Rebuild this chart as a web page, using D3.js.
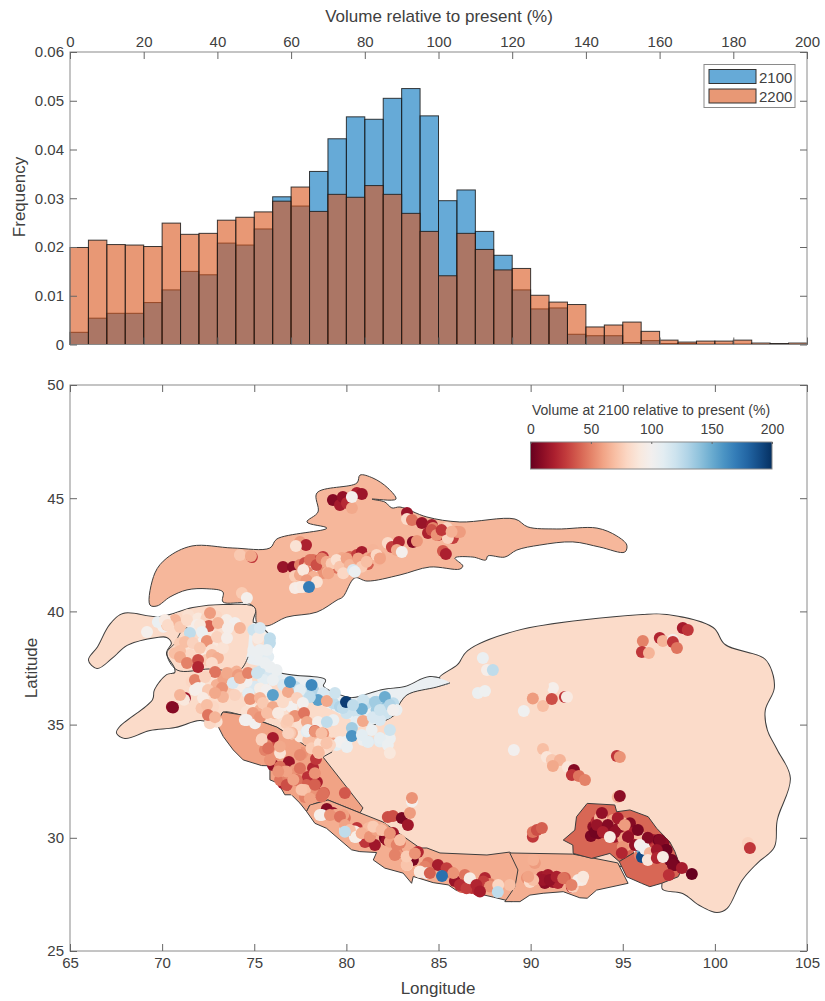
<!DOCTYPE html>
<html lang="en">
<head>
  <meta charset="UTF-8" />
  <title>Glacier volume</title>
  <script src="https://d3js.org/d3.v7.min.js"></script>
  <style>
    body { margin: 0; background: #fff; }
    text { font-family: "Liberation Sans", Arial, sans-serif; fill: #404040; }
  </style>
</head>
<body>
  <div id="chart"></div>

  <script>
    // histogram, one value per 5 % bin
    const binEdges = d3.range(0, 200, 5);
    const freq2100 = [0.0025, 0.0054, 0.0064, 0.0064, 0.0086, 0.0112, 0.0150, 0.0143, 0.0208, 0.0204,
      0.0237, 0.0303, 0.0284, 0.0355, 0.0422, 0.0467, 0.0462, 0.0505, 0.0525, 0.0469,
      0.0295, 0.0317, 0.0232, 0.0183, 0.0112, 0.0073, 0.0075, 0.0021, 0.0018, 0.0018,
      0.0004, 0.0008, 0.0002, 0.0002, 0.0001, 0.0001, 0.0001, 0, 0.0001, 0];
    const freq2200 = [0.0199, 0.0214, 0.0205, 0.0204, 0.0201, 0.0249, 0.0226, 0.0228, 0.0255, 0.0261,
      0.0272, 0.0294, 0.0323, 0.0273, 0.0308, 0.0302, 0.0326, 0.0308, 0.0269, 0.0232,
      0.0141, 0.0228, 0.0195, 0.0153, 0.0156, 0.0101, 0.0087, 0.0082, 0.0036, 0.0040,
      0.0046, 0.0027, 0.0009, 0.0005, 0.0007, 0.0007, 0.0009, 0.0003, 0.0002, 0.0003];
    const years = ["2100", "2200"];

    // region outlines as [lon, lat]
    const tibet = [[85.08,37.06],[86.05,37.63],[86.60,38.25],[89.25,39.13],[96.09,39.84],[97.39,39.84],[99.89,39.27],[100.54,38.52],[102.60,37.94],[102.98,37.54],[103.20,36.62],[102.71,35.64],[102.82,34.76],[103.36,33.88],[104.07,32.64],[103.36,30.79],[103.20,29.59],[102.28,28.89],[101.46,28.14],[100.65,26.90],[100.11,26.72],[99.18,27.03],[98.26,27.56],[97.18,27.74],[97.12,28.05],[95.93,28.58],[91.59,29.02],[84.53,29.24],[80.57,30.79],[78.73,33.57],[79.22,33.79],[79.22,35.64],[80.57,35.11],[81.44,34.98],[82.80,35.56],[82.80,35.78],[83.29,36.31],[84.91,36.66],[85.62,36.84]];
    const tienShan = [[69.34,40.28],[69.61,41.70],[70.26,42.36],[71.62,42.89],[73.84,42.80],[75.85,42.80],[76.23,43.20],[78.94,43.68],[77.86,43.95],[78.46,44.39],[78.40,45.23],[80.57,45.67],[80.74,46.02],[81.44,45.89],[82.25,45.45],[82.69,44.96],[81.39,44.96],[82.09,44.83],[82.47,44.57],[82.91,44.61],[84.37,44.17],[86.16,43.95],[89.15,44.08],[89.85,43.73],[91.42,43.64],[93.60,43.68],[94.68,43.33],[95.22,42.93],[95.11,42.62],[93.76,42.84],[92.29,43.07],[90.50,42.93],[89.25,42.71],[88.60,42.40],[87.68,42.45],[87.57,42.27],[86.87,42.40],[85.89,42.36],[86.32,42.01],[86.16,41.87],[84.53,41.96],[82.91,41.61],[81.12,41.34],[80.46,41.48],[79.81,40.64],[79.49,40.50],[78.40,39.97],[76.77,39.75],[75.69,39.36],[75.15,39.49],[75.04,40.15],[74.60,40.37],[73.30,40.42],[73.30,40.86],[72.43,41.00],[71.35,40.95],[70.43,40.64],[69.72,40.24]];
    const hinduKush = [[75.04,40.15],[73.30,40.28],[71.67,40.15],[69.88,39.75],[67.88,39.89],[67.17,39.40],[66.52,38.43],[66.03,37.85],[66.47,37.50],[67.33,37.99],[68.09,38.52],[69.72,38.87],[70.26,38.87],[70.53,38.60],[70.26,38.16],[70.70,37.50],[70.70,37.28],[70.26,37.19],[69.61,36.53],[69.50,36.09],[67.71,34.89],[67.55,34.63],[67.98,34.41],[69.34,34.76],[70.70,34.89],[72.05,35.20],[72.98,35.07],[73.30,35.56],[74.39,35.42],[76.23,34.89],[78.73,33.57],[79.22,33.79],[79.22,35.64],[77.86,36.17],[76.29,37.32],[75.74,37.99],[76.01,38.65],[74.93,39.49]];
    const karakoram = [[74.93,39.49],[76.01,38.65],[75.74,37.99],[76.29,37.32],[78.84,36.97],[78.73,36.70],[79.92,36.22],[80.36,36.17],[81.98,36.53],[83.18,36.66],[84.53,37.10],[85.62,36.84],[84.91,36.66],[83.29,36.31],[82.80,35.78],[82.80,35.56],[81.44,34.98],[80.57,35.11],[79.22,35.64],[77.86,36.17],[76.94,36.53],[75.58,37.50],[74.60,37.76],[74.66,38.29]];
    const westHimalaya = [[72.95,35.06],[73.30,35.56],[74.39,35.42],[76.23,34.89],[78.73,33.57],[80.90,31.32],[80.74,31.10],[79.00,31.67],[78.02,31.45],[77.84,31.16],[77.48,31.53],[77.02,31.90],[76.66,31.90],[76.30,32.41],[75.85,32.56],[75.85,33.18],[75.40,33.19],[74.40,33.44],[73.86,33.88],[73.32,34.47]];
    const centralHimalaya = [[79.00,31.67],[80.74,31.10],[81.98,30.70],[83.99,29.55],[84.37,29.55],[85.08,29.33],[87.63,29.24],[88.87,29.37],[89.25,29.02],[89.42,28.71],[88.96,27.18],[87.97,27.38],[87.06,27.55],[85.98,27.67],[85.53,27.92],[84.71,28.02],[83.63,28.29],[83.54,27.99],[83.08,28.44],[82.09,28.66],[81.46,29.02],[81.64,29.35],[80.73,29.39],[80.28,29.47],[79.65,29.91],[78.92,30.42],[78.29,30.64],[77.84,31.16],[78.02,31.45]];
    const eastHimalaya = [[88.87,29.33],[92.29,29.28],[94.73,28.89],[95.29,27.99],[93.58,27.69],[93.07,27.33],[92.67,27.35],[91.77,27.62],[90.68,27.55],[89.96,27.47],[89.42,27.18],[89.05,27.18],[88.60,27.18],[89.15,27.83],[89.31,28.58]];
    const nyainqentanglha = [[93.07,31.52],[94.57,31.45],[94.67,31.15],[95.39,31.23],[96.38,30.93],[96.84,30.42],[97.56,29.81],[96.31,29.68],[95.22,29.15],[94.81,28.95],[94.30,29.31],[93.31,29.09],[92.31,29.31],[92.29,29.68],[91.77,29.90],[92.40,30.34],[92.49,30.93]];
    const hengduan = [[94.81,28.95],[95.21,28.28],[96.02,27.99],[96.47,27.84],[97.11,27.99],[98.01,28.28],[98.19,28.58],[97.83,29.39],[97.56,29.81],[96.31,29.68],[95.22,29.15]];
    const paleShapes = [tibet, hinduKush, karakoram];
    const paleVolumes = [82, 82, 106];
    const smoothShapes = [tienShan];
    const smoothVolumes = [67];
    const regionShapes = [westHimalaya, centralHimalaya, eastHimalaya, nyainqentanglha, hengduan];
    const regionVolumes = [60, 64, 64, 42, 42];

    // inner borders of the pale regions, only partly drawn in the source
    const pamirEdge = [[72.50,39.53],[71.13,39.18],[70.70,38.60],[70.26,38.16],[70.81,37.41],[72.60,37.46],[74.22,37.41],[74.66,37.99]];
    const karakoramSouth = [[82.80,35.78],[82.80,35.56],[81.44,34.98],[80.57,35.11]];
    const karakoramEast = [[85.62,36.84],[84.91,36.66],[83.29,36.31],[82.80,35.78]];
    const himalayaStub = [[78.73,33.57],[79.22,33.79]];
    const innerEdges = [pamirEdge, karakoramSouth, karakoramEast, himalayaStub];

    // glacier dots as [lon, lat, volume %]
    const dotsTienShan = [[79.27,44.92,8],[79.65,44.70,18],[79.81,45.05,12],[80.03,44.79,24],[80.30,44.57,62],[80.57,45.23,20],[80.84,45.19,15],[80.30,45.05,98],
      [83.29,44.35,14],[83.29,44.08,82],[83.56,44.04,45],[84.10,43.90,14],[84.64,43.82,18],[84.70,43.68,50],[84.43,43.46,20],[84.97,43.37,28],[85.24,43.60,72],[85.46,43.68,80],[85.78,43.24,30],[85.51,43.24,78],[86.00,43.51,55],[86.16,43.51,58],
      [82.25,43.02,82],[82.47,42.84,30],[82.85,43.07,22],[82.74,42.71,62],[83.01,42.62,98],[83.61,43.07,8],[83.83,43.11,56],[85.24,42.67,38],[85.40,42.54,20],
      [76.56,41.96,14],[77.10,41.96,10],[77.21,41.56,75],[77.48,42.05,50],[77.75,42.14,35],[77.91,41.96,66],[78.19,42.27,45],[78.56,42.27,35],[78.73,42.40,28],[78.29,41.83,96],[78.73,41.70,55],[79.00,41.74,66],[77.86,41.74,50],[77.48,41.61,62],
      [79.38,42.14,74],[79.76,42.36,62],[79.54,41.92,45],[79.92,41.83,78],[80.08,42.14,50],[80.19,42.40,40],[80.36,42.05,86],[80.57,42.49,30],[80.63,42.27,58],[80.84,42.62,18],[80.84,42.05,55],[80.90,42.18,66],[81.17,42.36,62],[81.17,42.09,40],[81.44,42.71,66],[81.39,42.36,55],[81.82,42.40,62],[81.71,42.27,66],
      [77.48,43.07,58],[77.81,42.93,20],[77.26,42.89,86],[74.22,42.49,74],[74.87,42.40,28],[74.82,42.45,62],[74.33,40.81,75],[74.60,40.59,98]];
    const dotsTienShanTop = [[78.02,42.27,45],[78.38,42.05,35],[78.66,42.34,50],[78.93,42.19,62],[79.20,42.12,75],[79.47,42.27,85],[79.65,41.97,72],[80.01,42.34,60],[80.19,42.05,66],[80.65,42.34,60],[80.83,41.97,75],[81.10,42.19,70],[81.64,42.49,80],[81.82,42.34,60],[79.83,41.68,80],[78.20,41.53,65],[79.02,41.68,60],[77.66,41.83,90],[77.84,41.38,58],[84.63,43.59,36],[84.90,43.37,55],[85.17,43.59,28],[85.71,43.52,65],
      [80.36,41.83,115],[80.46,41.75,105],[77.21,41.03,93],[77.48,41.08,96],[77.64,41.08,92],[78.40,41.30,86],[77.97,41.08,170]];
    const dotsWestBack = [[70.42,39.54,88],[70.06,39.32,100],[70.87,39.69,80],[71.42,39.84,85],[71.96,39.69,90],[72.41,39.69,78],[71.69,39.32,92],[72.96,39.77,80],[73.50,39.62,95],[73.32,39.03,85],[72.59,38.96,90],[71.60,38.37,85],[70.97,38.59,75],[70.69,38.15,70],[71.51,38.07,80],[72.23,38.15,90],[72.41,37.85,75],[72.77,38.44,90],[72.23,38.66,100],
      [72.05,36.75,95],[72.32,36.23,85],[71.60,36.90,80],[72.59,36.97,85],[72.96,36.75,65],[73.59,36.53,75],[73.32,37.04,60],[73.68,37.26,70],[74.04,37.34,65],[73.77,37.04,60],[72.77,35.79,80],[72.14,35.72,72],[72.96,35.13,85],[72.59,35.06,80],[74.83,35.72,90],[75.04,35.06,100],[74.58,35.57,85],[75.31,35.64,65],[75.76,35.64,75],[76.12,35.50,70],[74.49,35.20,100],[75.13,36.16,80],[75.67,35.86,90],[76.48,35.79,95],[77.03,35.79,100],[76.57,35.35,85],[77.12,35.35,70],[77.66,35.35,60],[77.48,34.98,85],[76.75,35.06,75],[77.03,34.61,80],[77.48,34.47,90],[77.93,34.32,70],[78.47,34.25,70],[78.93,34.25,75],[77.84,34.69,110],[78.74,34.61,55],[79.29,34.17,60]];
    const dotsKarakoramBack = [[76.21,37.12,110],[76.57,36.75,115],[77.21,36.67,125],[77.66,36.45,120],[78.20,36.53,130],[78.74,36.38,115],[79.29,35.94,125],[79.65,35.79,130],[80.01,35.50,120],[80.55,35.57,120],[81.10,35.94,125],[81.64,36.01,130],[81.64,35.64,135],[82.18,35.79,140],[82.54,35.94,125],[82.72,35.64,105],[82.00,35.64,125],[82.18,35.50,120],[81.82,35.20,115],[81.19,35.20,110],[80.55,35.13,110],[79.29,35.20,105],[80.91,36.09,120],[81.37,34.76,105],[82.36,34.39,105],[81.82,34.25,110],[80.91,34.32,105],[80.01,34.25,105],[79.47,34.10,110],[81.19,34.25,115],
      [74.95,38.29,105],[75.31,38.00,105],[75.76,38.00,110],[75.49,38.59,115],[74.95,39.18,120],[75.40,38.88,95],[75.22,38.66,85],[75.85,38.81,125],[75.31,37.34,120],[75.85,37.19,115],[76.21,37.41,105],[75.49,36.97,110],[75.04,36.67,115],[74.58,36.90,100],[74.22,36.67,95],[74.67,36.38,110],[75.31,36.60,95],[75.67,36.53,100]];
    const dotsPamir = [[69.18,39.09,98],[69.77,39.53,106],[70.26,39.40,75],[70.70,39.62,66],[70.97,39.31,74],[71.35,39.62,82],[71.89,39.40,96],[70.15,39.62,92],[72.60,39.93,58],[72.54,39.36,40],[73.03,39.49,66],[73.95,39.49,100],[73.57,39.27,96],[74.22,39.27,66],[72.05,39.40,90],[71.51,39.05,125],[72.16,39.09,105],[70.31,39.40,82],[71.24,38.65,70],[71.67,38.60,78],[72.43,38.69,55],[72.98,38.87,78],[72.05,38.38,74],[72.70,38.29,86],[70.97,38.25,70],[70.97,37.99,62],[71.35,37.72,50],[71.95,37.85,35],[71.95,37.54,22],[72.70,38.07,66],[73.03,37.94,64],[72.70,37.72,82],[73.30,38.38,86],[73.52,38.82,96],[72.87,37.32,46],[73.52,37.28,62],[74.12,37.19,58],
      [70.53,35.78,12],[70.59,35.76,8],[71.24,36.17,15],[71.19,36.10,90],[70.97,36.31,66],
      [71.78,36.97,50],[71.95,36.62,96],[72.33,37.10,78],[71.78,36.53,96],[72.49,36.53,74],[73.25,36.62,55],[73.30,36.22,66],[72.87,36.40,62],[72.22,36.17,92],[72.43,35.87,70],[72.49,35.42,46],[72.87,35.33,66]];
    const dotsKarakoram = [[73.84,36.84,115],[74.22,37.06,62],[74.66,37.28,50],[75.15,37.28,120],[75.20,38.82,92],[75.31,39.27,115],[75.31,38.29,105],[75.85,38.60,125],[75.58,37.72,105],[75.85,37.54,105],[75.69,38.29,105],[76.01,36.97,105],[73.95,36.31,78],[74.77,36.13,55],[75.31,36.17,66],[75.47,35.95,74],[76.01,35.78,62],[74.93,35.51,58],[74.60,35.20,100],[75.31,35.33,55],[75.69,35.51,70],[76.29,35.51,92],[76.83,36.44,62],[76.94,36.88,160],[77.48,36.53,110],[78.11,36.75,165],[78.46,36.09,155],[78.02,36.22,125],[78.94,36.04,62],[77.32,36.17,78],[77.64,35.95,100],[76.56,35.99,82],[76.01,36.31,155],[77.21,35.38,55],[77.70,35.51,46],[76.83,35.20,74],[77.86,35.11,62],[78.46,35.11,96],[78.94,35.11,125],[77.91,34.76,105],[77.05,34.63,66],[78.29,34.72,40],[79.65,34.23,100],[80.03,34.01,105],[80.30,34.85,135],[80.30,34.50,160],[80.84,34.54,110],[81.17,34.23,110],[81.82,34.41,108],[82.36,34.76,120],[82.25,34.10,105],[82.36,33.75,90],[79.00,34.19,70],[78.56,33.88,82],[77.59,33.70,58],[79.38,36.40,120],[79.81,35.73,125],[79.98,36.00,195],[80.84,35.69,150],[80.90,35.16,62],[80.36,35.87,125],[81.44,35.33,115],[81.55,36.00,135],[82.09,36.22,150],[82.36,35.87,130],[82.53,35.64,100],[81.82,35.64,120]];
    const dotsHimalaya = [[75.42,34.36,78],[76.01,34.41,18],[75.96,33.97,35],[76.12,33.66,55],[76.40,33.75,86],[76.01,33.22,12],[75.68,34.09,50],[76.94,34.63,74],[77.59,33.75,55],[76.88,33.35,14],[78.19,33.08,22],[78.35,33.48,28],[78.51,33.75,70],[78.94,34.19,74],[76.50,32.86,40],[77.05,32.86,55],[77.59,32.64,40],[78.02,32.33,46],[76.56,32.42,18],[76.94,32.33,28],[77.59,32.16,70],[77.75,31.80,50],[78.40,32.46,18],[77.91,32.69,26],[78.78,31.98,38],[78.35,32.02,22],[76.40,32.55,46],[77.21,32.99,58],
      [78.94,31.27,8],[79.27,31.10,12],[78.67,31.01,100],[79.49,31.01,62],[79.92,30.87,46],[79.92,30.34,120],[80.46,30.04,96],[80.57,30.43,28],[81.12,30.04,55],[81.39,30.48,74],[81.01,29.81,28],[81.55,29.68,16],[81.98,30.39,66],[82.09,29.99,5],[82.20,29.90,12],[82.53,30.21,16],[82.91,29.77,50],[82.74,29.33,40],[83.61,29.02,5],[83.88,29.37,22],[83.29,28.80,88],[83.99,28.49,100],[84.43,28.80,66],
      [82.25,30.92,35],[82.53,30.96,35],[83.01,30.87,5],[83.34,30.57,16],
      [84.43,28.89,46],[84.97,28.80,18],[85.62,28.49,46],[85.89,28.09,14],[86.43,28.36,46],[86.70,28.14,88],[86.81,27.78,28],[86.27,27.83,40],[87.52,28.22,22],[87.79,27.96,50],[87.14,27.69,22],[88.87,27.92,70],
      [89.80,28.22,55],[89.96,28.05,82],[90.23,28.89,58],[90.61,28.27,16],[90.94,28.36,18],[90.77,28.00,10],[91.21,28.05,14],[91.48,28.00,22],[91.86,28.22,40],[92.78,28.14,92],[92.24,27.83,22],[92.29,27.83,78]];
    const dotsHimalayaTop = [[75.58,33.88,50],[75.85,33.44,55],[76.39,33.14,45],[76.66,32.92,60],[77.30,32.85,55],[76.85,32.63,50],[77.48,33.07,45],[78.20,32.04,55],[77.84,32.33,40],[77.21,32.11,60],[76.76,32.33,35],[77.75,32.11,70],[78.29,32.85,55],[78.65,31.82,45],[78.02,31.74,60],[77.21,33.95,60],[78.11,33.95,75],[78.56,34.17,85],[79.11,34.10,80],[77.30,32.55,45],
      [75.40,34.32,78],[75.76,33.96,45],[76.39,34.03,62],[76.84,34.62,78],[77.48,33.66,52],[78.29,34.69,55],[78.65,34.62,70],[78.92,34.18,72],[78.47,33.81,68],[76.75,32.93,60],[76.30,32.93,55],[77.57,32.12,72],[77.12,32.56,60],[78.29,32.34,40],[78.74,31.97,45],[79.92,31.98,38],[79.83,31.01,60],[78.56,31.01,97],[79.38,31.01,62],[80.46,30.28,92],[81.19,30.42,68],[82.00,30.35,58],[82.72,29.76,62],[82.72,29.32,55],[83.27,28.80,72],
      [79.11,31.01,55],[79.65,30.93,45],[79.92,30.56,60],[80.19,30.34,70],[79.92,30.27,125],[80.55,30.05,95],[80.83,30.20,65],[81.28,30.05,55],[81.64,30.34,60],[81.46,30.49,75],[81.91,30.34,70],[82.36,29.83,60],[82.73,29.68,50],[82.36,30.20,55],[82.91,29.90,70],[82.63,29.24,50],[83.27,29.17,75],[83.72,29.31,55],[84.26,28.72,50],[84.35,28.43,100],
      [83.45,31.10,58],[83.56,31.60,98],[83.56,31.76,55],
      [83.99,28.51,90],[84.53,28.44,40],[85.44,28.66,30],[85.80,28.44,55],[86.16,27.92,25],[86.52,27.77,30],[86.70,28.21,95],[87.43,28.07,30],[87.06,27.92,22],[87.79,27.85,55],[88.24,27.92,80],[87.25,27.63,18],
      [90.68,28.14,15],[91.04,28.14,12],[91.41,28.28,20],[91.77,28.21,45],[90.14,28.14,70],[89.87,28.28,60],[90.14,29.02,65],[92.58,28.14,95],[92.85,28.28,90],[92.22,27.91,50],
      [85.19,28.31,175],[88.22,27.61,125]];
    const dotsSouthEastBack = [[93.85,30.86,72],[93.40,30.49,10],[93.67,30.20,5],[93.58,30.71,25],[94.48,30.79,60],[93.94,30.42,5],[94.76,30.42,12],[95.03,30.64,65],[95.39,30.64,8],[95.48,30.20,20],[94.57,30.05,15],[95.03,29.98,60],[95.21,29.68,60],[95.93,30.05,70],[96.66,29.90,20],[96.75,29.53,30],[97.02,29.39,60],[97.20,29.76,10],[96.66,29.09,45],[95.75,29.68,80],[95.93,29.39,110],[95.93,29.24,50],[96.02,29.53,150],[96.11,29.68,95],[96.93,29.90,3],[97.38,29.46,2],[97.29,29.17,5],[97.56,29.02,3],[97.83,28.80,2]];
    const dotsTibet = [[94.68,33.61,28],[94.84,33.57,55],[94.73,31.80,66],[94.84,31.85,10],[90.12,30.05,28],[90.12,30.26,46],[90.34,30.34,35],[90.61,30.43,40],[98.26,39.27,18],[98.53,39.18,28],[96.09,38.69,50],[97.01,38.82,22],[97.18,38.69,66],[97.72,38.75,96],[97.72,38.65,28],[97.94,38.38,46],[96.04,38.21,28],[96.42,38.16,66],[101.79,29.77,78],[101.90,29.55,28],
      [89.63,35.60,102],[90.12,36.15,58],[90.67,35.82,70],[91.21,36.62,97],[90.67,36.70,82],[91.15,36.13,35],[91.86,36.22,28],[91.97,36.22,92],[89.09,33.88,100],[90.67,33.92,70],[90.88,33.57,88],[91.15,33.44,74],[91.59,33.44,66],[91.21,33.17,62],[92.02,33.13,88],[92.35,32.99,8],[92.24,32.77,28],[92.62,32.73,46],[92.95,32.55,50],
      [87.41,37.94,105],[87.63,37.41,96],[87.95,37.41,125],[87.14,36.40,105],[87.52,36.48,103]];
    const dotsSouthEast = [[93.76,30.87,66],[93.27,30.08,5],[93.49,30.26,3],[93.60,30.57,14],[93.87,31.10,12],[94.19,30.57,8],[93.92,30.26,20],[94.57,30.26,12],[94.30,30.04,92],[94.73,30.87,18],[95.11,30.57,58],[95.82,30.34,5],[95.28,30.04,12],[95.00,29.59,55],[94.95,29.33,22],[96.36,30.00,8],[97.01,29.90,8],[97.34,29.46,2],[97.66,29.02,3],[97.72,28.80,5],[98.21,28.67,18],[98.75,28.40,0],[97.50,28.36,26],[95.66,29.68,12],[95.93,29.68,98],[96.04,29.15,190],[96.20,29.50,100],[96.47,29.33,66],[96.36,29.02,88],[96.85,29.46,16],[96.85,29.11,22],[97.18,29.15,92]];
    const glacierDots = [...dotsTienShan, ...dotsTienShanTop, ...dotsWestBack, ...dotsKarakoramBack, ...dotsPamir, ...dotsKarakoram,
      ...dotsHimalaya, ...dotsHimalayaTop, ...dotsSouthEastBack, ...dotsTibet, ...dotsSouthEast];

    const histTicks = d3.range(0, 201, 20);
    const freqTicks = [0, 0.01, 0.02, 0.03, 0.04, 0.05, 0.06];
    const lonTicks = d3.range(65, 106, 5);
    const latTicks = d3.range(25, 51, 5);
    const barTicks = [0, 50, 100, 150, 200];

    const svg = d3.select("#chart").append("svg")
      .attr("width", 825)
      .attr("height", 1001)
      .style("display", "block");

    const frameColor = "#8a8a8a";
    const edgeColor = "#3d3d3d";
    const color = d3.scaleSequential(d3.interpolateRdBu).domain([0, 200]);

    function styleAxis(g, size) {
      g.selectAll("path").remove();
      g.selectAll("line").attr("stroke", "#666");
      g.selectAll("text").style("font-size", size + "px").attr("fill", "#404040");
    }

    function frame(box) {
      svg.append("rect")
        .attr("x", box.left).attr("y", box.top)
        .attr("width", box.right - box.left).attr("height", box.bottom - box.top)
        .attr("fill", "none").attr("stroke", frameColor).attr("stroke-width", 1);
    }

    // top panel
    const histBox = {left: 70, right: 807, top: 52, bottom: 344.5};
    const x = d3.scaleLinear().domain([0, 200]).range([histBox.left, histBox.right]);
    const y = d3.scaleLinear().domain([0, 0.06]).range([histBox.bottom, histBox.top]);
    const histColors = ["#0072BD", "#D95319"];

    [freq2100, freq2200].forEach(function(series, i) {
      svg.append("g").selectAll("rect")
        .data(series)
        .enter()
        .append("rect")
          .attr("x", function(d, k) { return x(binEdges[k]); })
          .attr("y", function(d) { return y(d); })
          .attr("width", function(d, k) { return x(binEdges[k] + 5) - x(binEdges[k]); })
          .attr("height", function(d) { return y(0) - y(d); })
          .attr("fill", histColors[i])
          .attr("fill-opacity", 0.6)
          .attr("stroke", "#1a1a1a")
          .attr("stroke-opacity", 0.85)
          .attr("stroke-width", 1);
    });

    frame(histBox);
    svg.append("g").attr("transform", "translate(0," + histBox.top + ")")
      .call(d3.axisTop(x).tickValues(histTicks).tickSize(-7).tickPadding(5))
      .call(styleAxis, 15);
    svg.append("g").attr("transform", "translate(0," + histBox.bottom + ")")
      .call(d3.axisBottom(x).tickValues(histTicks).tickSize(-7).tickFormat(""))
      .call(styleAxis, 15);
    svg.append("g").attr("transform", "translate(" + histBox.left + ",0)")
      .call(d3.axisLeft(y).tickValues(freqTicks).tickSize(-7).tickPadding(6).tickFormat(function(d) { return d === 0 ? "0" : d3.format(".2f")(d); }))
      .call(styleAxis, 15);
    svg.append("g").attr("transform", "translate(" + histBox.right + ",0)")
      .call(d3.axisRight(y).tickValues(freqTicks).tickSize(-7).tickFormat(""))
      .call(styleAxis, 15);

    svg.append("text").attr("x", 439).attr("y", 22).attr("text-anchor", "middle")
      .style("font-size", "17px").text("Volume relative to present (%)");
    svg.append("text").attr("transform", "translate(25,197)rotate(-90)").attr("text-anchor", "middle")
      .style("font-size", "17px").text("Frequency");

    // legend
    const legend = svg.append("g");
    legend.append("rect").attr("x", 704).attr("y", 64.5).attr("width", 91).attr("height", 43)
      .attr("fill", "#fff").attr("stroke", frameColor);
    years.forEach(function(year, i) {
      legend.append("rect").attr("x", 709).attr("y", 69.5 + i * 19.5).attr("width", 47).attr("height", 14)
        .attr("fill", histColors[i]).attr("fill-opacity", 0.6).attr("stroke", "#333");
      legend.append("text").attr("x", 759).attr("y", 82.5 + i * 19.5)
        .style("font-size", "15px").text(year);
    });

    // map panel
    const mapBox = {left: 70, right: 807, top: 385, bottom: 951};
    const lon = d3.scaleLinear().domain([65, 105]).range([mapBox.left, mapBox.right]);
    const lat = d3.scaleLinear().domain([25, 50]).range([mapBox.bottom, mapBox.top]);
    const outline = d3.line().x(function(d) { return lon(d[0]); }).y(function(d) { return lat(d[1]); }).curve(d3.curveCatmullRomClosed.alpha(0.5));
    const openLine = d3.line().x(function(d) { return lon(d[0]); }).y(function(d) { return lat(d[1]); }).curve(d3.curveCatmullRom.alpha(0.5));
    const jagged = d3.line().x(function(d) { return lon(d[0]); }).y(function(d) { return lat(d[1]); }).curve(d3.curveLinearClosed);

    // pale regions: thick stroke under a second fill, so only their outer edge shows
    const paleLayer = svg.append("g");
    paleLayer.selectAll(".pale-edge")
      .data(paleShapes)
      .enter()
      .append("path")
        .attr("class", "pale-edge")
        .attr("d", outline)
        .attr("fill", "none")
        .attr("stroke", edgeColor)
        .attr("stroke-width", 2);
    paleLayer.selectAll(".pale-fill")
      .data(paleShapes)
      .enter()
      .append("path")
        .attr("class", "pale-fill")
        .attr("d", outline)
        .attr("fill", function(d, i) { return color(paleVolumes[i]); });

    svg.append("g").selectAll("path")
      .data(innerEdges)
      .enter()
      .append("path")
        .attr("d", openLine)
        .attr("fill", "none")
        .attr("stroke", edgeColor)
        .attr("stroke-width", 1);

    svg.append("g").selectAll("path")
      .data(smoothShapes)
      .enter()
      .append("path")
        .attr("d", outline)
        .attr("fill", function(d, i) { return color(smoothVolumes[i]); })
        .attr("stroke", edgeColor)
        .attr("stroke-width", 1);

    svg.append("g").selectAll("path")
      .data(regionShapes)
      .enter()
      .append("path")
        .attr("d", jagged)
        .attr("fill", function(d, i) { return color(regionVolumes[i]); })
        .attr("stroke", edgeColor)
        .attr("stroke-width", 1);

    svg.append("g").selectAll("circle")
      .data(glacierDots)
      .enter()
      .append("circle")
        .attr("cx", function(d) { return lon(d[0]); })
        .attr("cy", function(d) { return lat(d[1]); })
        .attr("r", 6)
        .attr("fill", function(d) { return color(d[2]); });

    frame(mapBox);
    svg.append("g").attr("transform", "translate(0," + mapBox.top + ")")
      .call(d3.axisTop(lon).tickValues(lonTicks).tickSize(-7).tickFormat(""))
      .call(styleAxis, 15);
    svg.append("g").attr("transform", "translate(0," + mapBox.bottom + ")")
      .call(d3.axisBottom(lon).tickValues(lonTicks).tickSize(-7).tickPadding(6))
      .call(styleAxis, 15);
    svg.append("g").attr("transform", "translate(" + mapBox.left + ",0)")
      .call(d3.axisLeft(lat).tickValues(latTicks).tickSize(-7).tickPadding(6))
      .call(styleAxis, 15);
    svg.append("g").attr("transform", "translate(" + mapBox.right + ",0)")
      .call(d3.axisRight(lat).tickValues(latTicks).tickSize(-7).tickFormat(""))
      .call(styleAxis, 15);

    svg.append("text").attr("x", 438).attr("y", 994).attr("text-anchor", "middle")
      .style("font-size", "17px").text("Longitude");
    svg.append("text").attr("transform", "translate(37,668)rotate(-90)").attr("text-anchor", "middle")
      .style("font-size", "17px").text("Latitude");

    // colour bar
    const barX = d3.scaleLinear().domain([0, 200]).range([530.5, 772]);
    const defs = svg.append("defs");
    const grad = defs.append("linearGradient").attr("id", "rdbu");
    grad.selectAll("stop")
      .data(d3.range(0, 201, 10))
      .enter()
      .append("stop")
        .attr("offset", function(d) { return (d / 2) + "%"; })
        .attr("stop-color", function(d) { return color(d); });
    svg.append("rect").attr("x", barX(0)).attr("y", 442).attr("width", barX(200) - barX(0)).attr("height", 27)
      .attr("fill", "url(#rdbu)").attr("stroke", frameColor);
    svg.append("g").attr("transform", "translate(0,442)")
      .call(d3.axisTop(barX).tickValues(barTicks).tickSize(-2).tickPadding(8))
      .call(styleAxis, 14);
    svg.append("text").attr("x", 651).attr("y", 415).attr("text-anchor", "middle")
      .style("font-size", "14px").text("Volume at 2100 relative to present (%)");
  </script>
</body>
</html>
